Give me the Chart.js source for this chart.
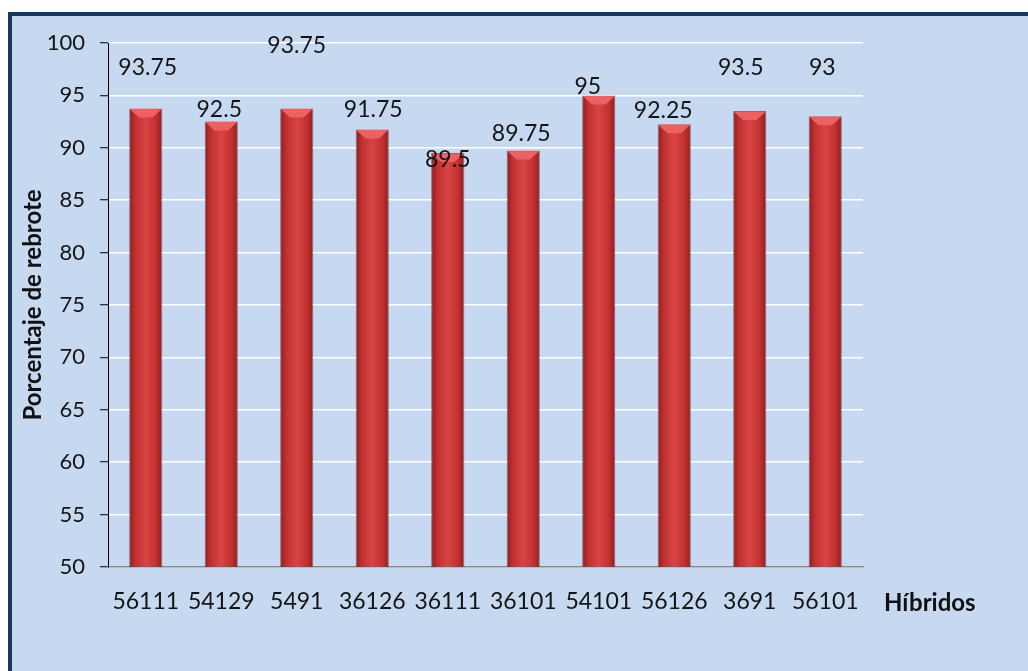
<!DOCTYPE html>
<html>
<head>
<meta charset="utf-8">
<script src="https://cdn.jsdelivr.net/npm/chart.js@4.4.1/dist/chart.umd.min.js"></script>
<style>
  html, body { margin: 0; padding: 0; background: #ffffff; width: 1028px; height: 671px; overflow: hidden; }
  #frame { position: absolute; left: 8px; top: 12px; width: 1040px; height: 680px;
           background: #c6d9f1; border-left: 4px solid #17375e; border-top: 4px solid #17375e; }
  #wrap { position: absolute; left: 0; top: 0; width: 1028px; height: 671px; }
</style>
</head>
<body>
<div id="frame"></div>
<div id="wrap"><canvas id="c" width="1028" height="671"></canvas></div>
<script>
// hybrids and regrowth percentage
var hibridos = ['56111', '54129', '5491', '36126', '36111', '36101', '54101', '56126', '3691', '56101'];
var rebrote = [93.75, 92.5, 93.75, 91.75, 89.5, 89.75, 95, 92.25, 93.5, 93];
var yTicks = [50, 55, 60, 65, 70, 75, 80, 85, 90, 95, 100];

// where each value label sits relative to the bar top (as placed in the original)
var labelNudge = [[2, -41], [-2, -12], [0, -63], [1, -20], [0, 7], [-2, -17], [-11, -9], [-11, -14], [-9, -44], [-3, -49]];

var FONT = 'Lato, "Open Sans", sans-serif';
var BAR_PCT = 0.88, CAT_PCT = 0.5;

function barGradient(ctx) {
  var chart = ctx.chart;
  var xs = chart.scales.x;
  if (!xs || !chart.chartArea) return '#c83232';
  var cx = xs.getPixelForValue(ctx.dataIndex);
  var half = xs.width / hibridos.length * BAR_PCT * CAT_PCT / 2;
  var g = chart.ctx.createLinearGradient(cx - half, 0, cx + half, 0);
  g.addColorStop(0, '#8e1c1c');
  g.addColorStop(0.18, '#c03030');
  g.addColorStop(0.5, '#d94444');
  g.addColorStop(0.82, '#c03030');
  g.addColorStop(1, '#8e1c1c');
  return g;
}

var decor = {
  id: 'decor',
  afterDatasetsDraw: function(chart) {
    var c = chart.ctx;
    var meta = chart.getDatasetMeta(0);
    c.save();
    meta.data.forEach(function(bar, i) {
      var l = bar.x - bar.width / 2, r = bar.x + bar.width / 2, t = bar.y;
      // bevel on top of each bar
      c.beginPath();
      c.moveTo(l + 1, t + 1);
      c.lineTo(r - 1, t + 1);
      c.lineTo(r - bar.width * 0.3, t + 9);
      c.lineTo(l + bar.width * 0.3, t + 9);
      c.closePath();
      c.fillStyle = '#ec6262';
      c.fill();
      // value label
      c.font = '23px ' + FONT;
      c.fillStyle = '#141414';
      c.textAlign = 'center';
      c.textBaseline = 'middle';
      c.fillText(String(rebrote[i]), bar.x + labelNudge[i][0], t + labelNudge[i][1]);
    });
    // axis titles
    var area = chart.chartArea;
    c.font = 'bold 24px ' + FONT;
    c.fillStyle = '#111';
    c.textAlign = 'left';
    c.textBaseline = 'middle';
    c.fillText('Híbridos', 884, 603);
    c.translate(33, (area.top + area.bottom) / 2);
    c.rotate(-Math.PI / 2);
    c.textAlign = 'center';
    c.fillText('Porcentaje de rebrote', 0, 0);
    c.restore();
  }
};

new Chart(document.getElementById('c').getContext('2d'), {
  type: 'bar',
  data: {
    labels: hibridos,
    datasets: [{
      data: rebrote,
      backgroundColor: barGradient,
      borderColor: 'rgba(90,20,20,0.55)',
      borderWidth: 1,
      borderSkipped: 'bottom',
      barPercentage: BAR_PCT,
      categoryPercentage: CAT_PCT
    }]
  },
  options: {
    responsive: false,
    animation: false,
    layout: { padding: { top: 43, right: 165, left: 0, bottom: 0 } },
    plugins: { legend: { display: false }, tooltip: { enabled: false } },
    scales: {
      x: {
        afterFit: function(s) { s.height = 104; },
        grid: { display: false, drawTicks: false },
        border: { display: true, color: '#8c8c8c', width: 1.5 },
        ticks: { padding: 21, color: '#141414', font: { family: FONT, size: 23 }, maxRotation: 0 }
      },
      y: {
        min: 50,
        max: 100,
        afterFit: function(s) { s.width = 108; },
        afterBuildTicks: function(s) { s.ticks = yTicks.map(function(v) { return { value: v }; }); },
        grid: { color: '#ffffff', lineWidth: 1.5, tickColor: '#000000', tickLength: 8, tickWidth: 1 },
        border: { display: true, color: '#000000', width: 1 },
        ticks: { padding: 15, color: '#141414', font: { family: FONT, size: 22 } }
      }
    }
  },
  plugins: [decor]
});
</script>
</body>
</html>
